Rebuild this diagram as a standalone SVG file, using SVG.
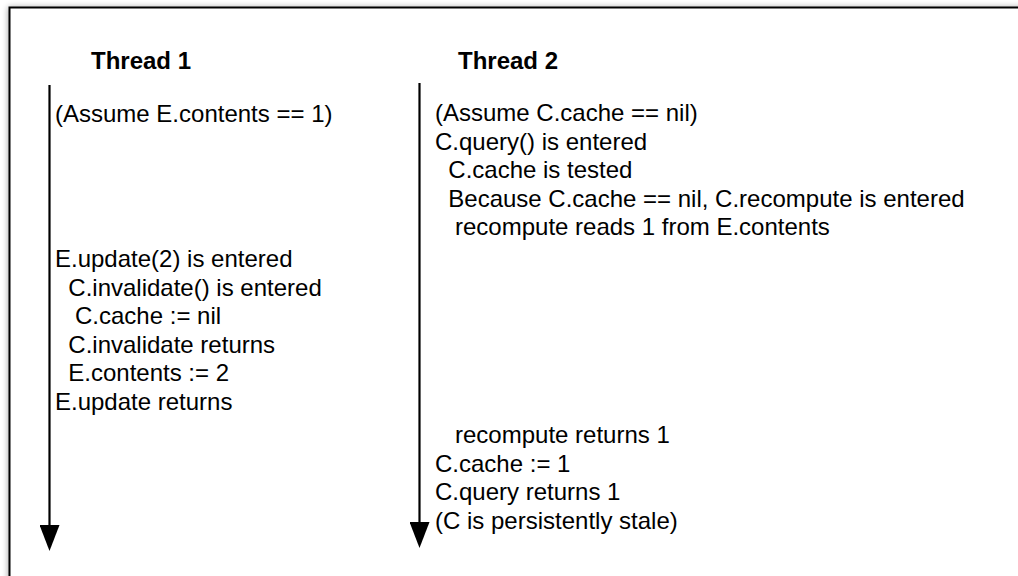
<svg xmlns="http://www.w3.org/2000/svg" width="1018" height="576" viewBox="0 0 1018 576">
  <style>
    .hdr { font-family: "Liberation Sans", Arial, Helvetica, sans-serif; font-size: 24px; font-weight: bold; fill: #000; }
    .step { font-family: "Liberation Sans", Arial, Helvetica, sans-serif; font-size: 24px; fill: #000; }
    .timeline { stroke: #000; stroke-width: 2.2; fill: none; }
  </style>
  <defs>
    <filter id="soft" x="-5%" y="-5%" width="110%" height="110%">
      <feGaussianBlur stdDeviation="3"/>
    </filter>
    <marker id="arrowhead" markerUnits="userSpaceOnUse" viewBox="0 0 26 20" refX="0" refY="10" markerWidth="26" markerHeight="20" orient="auto">
      <path d="M0,0 L26,10 L0,20 Z" fill="#000"/>
    </marker>
  </defs>

  <!-- page background and framed panel with soft shadow -->
  <rect x="0" y="0" width="1018" height="576" fill="#ffffff"/>
  <rect x="8" y="7" width="1030" height="590" fill="#000" opacity="0.35" filter="url(#soft)"/>
  <rect x="9.5" y="7.5" width="1030" height="590" fill="#ffffff" stroke="#000" stroke-width="2"/>

  <!-- thread timelines -->
  <g id="connectors">
    <line class="timeline" x1="49.5" y1="85" x2="49.5" y2="525" marker-end="url(#arrowhead)"/>
    <line class="timeline" x1="419.5" y1="83" x2="419.5" y2="522" marker-end="url(#arrowhead)"/>
  </g>

  <g id="thread1">
    <text class="hdr" x="91" y="69">Thread 1</text>
    <text class="step" x="55" y="122">(Assume E.contents == 1)</text>
    <text class="step" x="55" y="267">E.update(2) is entered</text>
    <text class="step" x="68.3" y="295.6">C.invalidate() is entered</text>
    <text class="step" x="75" y="324.2">C.cache := nil</text>
    <text class="step" x="68.3" y="352.8">C.invalidate returns</text>
    <text class="step" x="68.3" y="381.4">E.contents := 2</text>
    <text class="step" x="55" y="410">E.update returns</text>
  </g>

  <g id="thread2">
    <text class="hdr" x="458" y="69">Thread 2</text>
    <text class="step" x="435" y="121">(Assume C.cache == nil)</text>
    <text class="step" x="435" y="149.6">C.query() is entered</text>
    <text class="step" x="448.3" y="178.2">C.cache is tested</text>
    <text class="step" x="448.3" y="206.8">Because C.cache == nil, C.recompute is entered</text>
    <text class="step" x="455" y="235.4">recompute reads 1 from E.contents</text>
    <text class="step" x="455" y="443">recompute returns 1</text>
    <text class="step" x="435" y="471.6">C.cache := 1</text>
    <text class="step" x="435" y="500.2">C.query returns 1</text>
    <text class="step" x="435" y="528.8">(C is persistently stale)</text>
  </g>
</svg>
